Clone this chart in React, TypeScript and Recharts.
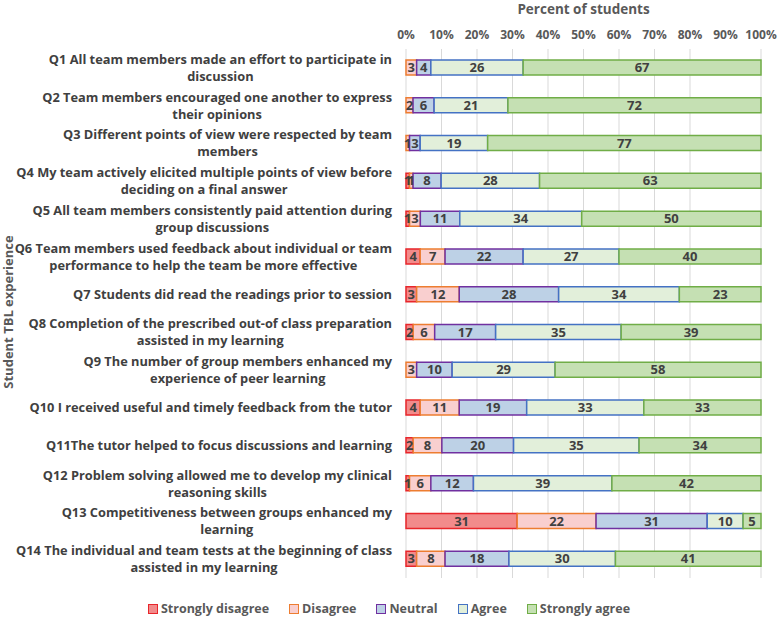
import React from 'react';
import {
  BarChart,
  Bar,
  XAxis,
  YAxis,
  CartesianGrid,
  LabelList,
} from 'recharts';

const questions = [
  'Q1 All team members made an effort to participate in\ndiscussion',
  'Q2 Team members encouraged one another to express\ntheir opinions',
  'Q3 Different points of view were respected by team\nmembers',
  'Q4 My team actively elicited multiple points of view before\ndeciding on a final answer',
  'Q5 All team members consistently paid attention during\ngroup discussions',
  'Q6 Team members used feedback about individual or team\nperformance to help the team be more effective',
  'Q7 Students did read the readings prior to session',
  'Q8 Completion of the prescribed out-of class preparation\nassisted in my learning',
  'Q9 The number of group members enhanced my\nexperience of peer learning',
  'Q10 I received useful and timely feedback from the tutor',
  'Q11The tutor helped to focus discussions and learning',
  'Q12 Problem solving allowed me to develop my clinical\nreasoning skills',
  'Q13 Competitiveness between groups enhanced my\nlearning',
  'Q14 The individual and team tests at the beginning of class\nassisted in my learning',
];

const stronglyDisagree = [0, 0, 0, 1, 1, 4, 3, 2, 0, 4, 2, 1, 31, 3];
const disagree = [3, 2, 1, 1, 3, 7, 12, 6, 3, 11, 8, 6, 22, 8];
const neutral = [4, 6, 3, 8, 11, 22, 28, 17, 10, 19, 20, 12, 31, 18];
const agree = [26, 21, 19, 28, 34, 27, 34, 35, 29, 33, 35, 39, 10, 30];
const stronglyAgree = [67, 72, 77, 63, 50, 40, 23, 39, 58, 33, 34, 42, 5, 41];

const percentTicks = [0, 10, 20, 30, 40, 50, 60, 70, 80, 90, 100];

const series = [
  { key: 'sd', name: 'Strongly disagree', fill: '#F28B8B', stroke: '#E8262B' },
  { key: 'd', name: 'Disagree', fill: '#F9CFCF', stroke: '#ED7D31' },
  { key: 'n', name: 'Neutral', fill: '#BDD1E6', stroke: '#7030A0' },
  { key: 'a', name: 'Agree', fill: '#E2EFDA', stroke: '#4472C4' },
  { key: 'sa', name: 'Strongly agree', fill: '#C5E0B3', stroke: '#70AD47' },
];

const data = questions.map((q, i) => ({
  question: q,
  sd: stronglyDisagree[i],
  d: disagree[i],
  n: neutral[i],
  a: agree[i],
  sa: stronglyAgree[i],
}));

const FONT = '"Open Sans", sans-serif';
const TEXT = '#404040';
const LABEL_SIZE = 12.8;

let ctx: CanvasRenderingContext2D | null = null;
function measure(s: string) {
  if (!ctx) ctx = document.createElement('canvas').getContext('2d');
  if (!ctx) return s.length * 6.3;
  ctx.font = `bold ${LABEL_SIZE}px ${FONT}`;
  return ctx.measureText(s).width;
}

// wrapped labels: block right-aligned, lines centred inside the block
function QuestionTick(props: any) {
  const { x, y, payload } = props;
  const lines: string[] = String(payload.value).split('\n');
  const w = Math.max(...lines.map(measure));
  const cx = x - w / 2;
  const lh = 17;
  const y0 = y - ((lines.length - 1) * lh) / 2 + 4.5;
  return (
    <text
      x={cx}
      y={y0}
      textAnchor="middle"
      fill={TEXT}
      fontSize={LABEL_SIZE}
      fontWeight="bold"
      fontFamily={FONT}
    >
      {lines.map((l, i) => (
        <tspan key={i} x={cx} y={y0 + i * lh}>
          {l}
        </tspan>
      ))}
    </text>
  );
}

export default function App() {
  return (
    <div style={{ position: 'relative', width: 778, height: 618, background: '#fff' }}>
      <style>{'body{margin:0}'}</style>
      <BarChart
        width={778}
        height={618}
        data={data}
        layout="vertical"
        stackOffset="expand"
        margin={{ top: 18, right: 17, left: 6, bottom: 40 }}
      >
        <CartesianGrid horizontal={false} stroke="#D9D9D9" />
        <XAxis
          type="number"
          orientation="top"
          domain={[0, 1]}
          ticks={percentTicks.map((t) => t / 100)}
          tickFormatter={(v: number) => `${Math.round(v * 100)}%`}
          axisLine={false}
          tickLine={false}
          height={31}
          tickMargin={4}
          tick={{ fill: '#595959', fontSize: 12, fontWeight: 'bold', fontFamily: FONT }}
          label={{
            value: 'Percent of students',
            position: 'top',
            offset: 4,
            fill: '#595959',
            fontSize: 13.5,
            fontWeight: 'bold',
            fontFamily: FONT,
          }}
        />
        <YAxis
          type="category"
          dataKey="question"
          width={400}
          interval={0}
          axisLine={false}
          tickLine={false}
          tickMargin={8}
          tick={<QuestionTick />}
        />
        {series.map((s) => (
          <Bar
            key={s.key}
            dataKey={s.key}
            name={s.name}
            stackId="all"
            barSize={15}
            fill={s.fill}
            stroke={s.stroke}
            strokeWidth={1.5}
            isAnimationActive={false}
          >
            <LabelList
              dataKey={s.key}
              position="center"
              formatter={(v: any) => (v ? v : '')}
              fill={TEXT}
              fontSize={13}
              fontWeight="bold"
              fontFamily={FONT}
            />
          </Bar>
        ))}
      </BarChart>
      <svg
        width={20}
        height={618}
        style={{ position: 'absolute', left: 0, top: 0 }}
      >
        <text
          transform="translate(13 312) rotate(-90)"
          textAnchor="middle"
          fill="#595959"
          fontSize={13}
          fontWeight="bold"
          fontFamily={FONT}
        >
          Student TBL experience
        </text>
      </svg>
      <div
        style={{
          position: 'absolute',
          top: 601,
          left: 0,
          width: 778,
          display: 'flex',
          justifyContent: 'center',
          gap: 20,
          fontFamily: FONT,
          fontSize: 12.5,
          fontWeight: 'bold',
          color: '#595959',
          lineHeight: '16px',
        }}
      >
        {series.map((s) => (
          <span key={s.key} style={{ display: 'flex', alignItems: 'center', gap: 3 }}>
            <span
              style={{
                display: 'inline-block',
                width: 8,
                height: 8,
                background: s.fill,
                border: `1.5px solid ${s.stroke}`,
              }}
            />
            {s.name}
          </span>
        ))}
      </div>
    </div>
  );
}
